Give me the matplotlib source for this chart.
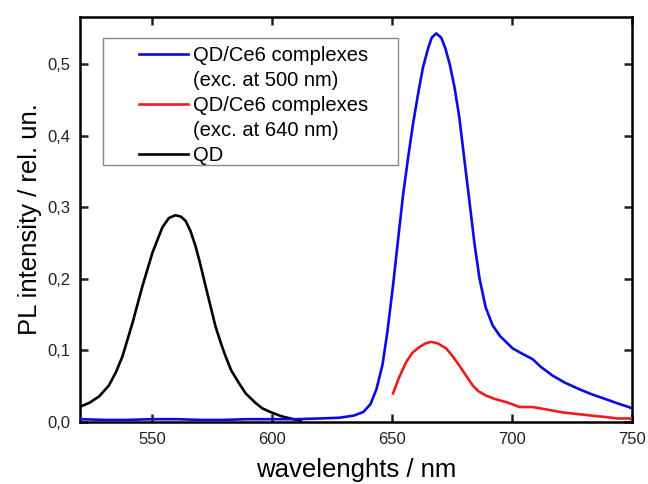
import matplotlib
matplotlib.use('Agg')
import matplotlib.pyplot as plt
from matplotlib.lines import Line2D
from matplotlib.patches import Rectangle
from matplotlib.ticker import FuncFormatter

plt.rcParams['font.family'] = ['Liberation Sans', 'DejaVu Sans']

# QD/Ce6 complexes, excitation at 500 nm (blue)
blue_nm = [520, 530, 540, 550, 560, 570, 580, 590, 600, 610, 620, 628, 634, 638, 641,
           643.5, 646, 648, 650.4, 652.5, 654.6, 656.7, 658.7, 660.8, 662.9, 665, 666.5,
           668.4, 670.5, 672.2, 674, 676, 678, 680, 682.2, 684.3, 686.4, 689, 691.9, 695,
           700.2, 705, 708.5, 712, 716.8, 722, 727.9, 733, 739, 744, 748.6, 750]
blue_pl = [0.004, 0.003, 0.003, 0.004, 0.004, 0.003, 0.003, 0.004, 0.004, 0.004, 0.005,
           0.006, 0.009, 0.014, 0.025, 0.046, 0.080, 0.125, 0.191, 0.255, 0.318, 0.370,
           0.416, 0.458, 0.496, 0.522, 0.537, 0.543, 0.537, 0.522, 0.500, 0.468, 0.426,
           0.370, 0.309, 0.250, 0.201, 0.160, 0.135, 0.120, 0.103, 0.094, 0.088, 0.077,
           0.065, 0.055, 0.046, 0.039, 0.032, 0.026, 0.021, 0.019]

# QD/Ce6 complexes, excitation at 640 nm (red)
red_nm = [650.4, 653, 655.9, 658.5, 661.5, 664, 666.3, 669, 672.5, 675, 678, 681, 683.6,
          686, 689.1, 693, 697.4, 700, 703, 706, 708.5, 712, 716.8, 722, 727.9, 733, 739,
          744, 748.6, 750]
red_pl = [0.040, 0.063, 0.084, 0.097, 0.105, 0.110, 0.112, 0.110, 0.103, 0.093, 0.079,
          0.064, 0.051, 0.043, 0.037, 0.032, 0.028, 0.025, 0.021, 0.021, 0.021, 0.019,
          0.016, 0.013, 0.011, 0.009, 0.007, 0.005, 0.005, 0.004]

# QD alone (black)
qd_nm = [520.4, 524, 528, 532, 535, 537.7, 541.9, 546, 550.2, 554.3, 557, 559.8, 562, 564,
         566, 568.1, 570, 572.3, 574.5, 576.4, 578.5, 580.6, 583, 586.1, 589, 593, 596,
         600, 604, 608.9, 612]
qd_pl = [0.022, 0.027, 0.036, 0.051, 0.070, 0.092, 0.139, 0.190, 0.237, 0.272, 0.285,
         0.289, 0.287, 0.281, 0.267, 0.246, 0.222, 0.190, 0.160, 0.134, 0.112, 0.092,
         0.072, 0.055, 0.040, 0.027, 0.019, 0.013, 0.008, 0.004, 0.002]

legend_labels = ['QD/Ce6 complexes', '(exc. at 500 nm)',
                 'QD/Ce6 complexes', '(exc. at 640 nm)', 'QD']

fig = plt.figure(figsize=(6.48, 4.84), dpi=100)
ax = fig.add_axes([0.1235, 0.128, 0.852, 0.837])

ax.plot(qd_nm, qd_pl, color='black', lw=1.9, zorder=2)
ax.plot(blue_nm, blue_pl, color='#0a0ae6', lw=1.9, zorder=3)
ax.plot(red_nm, red_pl, color='#ee1c1c', lw=1.9, zorder=3)

ax.set_xlim(520, 750)
ax.set_ylim(0, 0.566)
ax.set_xticks([550, 600, 650, 700, 750])
ax.set_yticks([0.0, 0.1, 0.2, 0.3, 0.4, 0.5])
ax.yaxis.set_major_formatter(FuncFormatter(lambda v, p: f'{v:.1f}'.replace('.', ',')))
ax.tick_params(direction='in', length=6, width=1.8, top=True, right=True,
               labelsize=12, colors='#222222', pad=7)
for s in ax.spines.values():
    s.set_linewidth(1.8)

ax.set_xlabel('wavelenghts / nm', fontsize=18.5, labelpad=8)
ax.set_ylabel('PL intensity / rel. un.', fontsize=18.5, labelpad=4)

# legend box drawn separately (wide padding like the original)
ax.add_patch(Rectangle((0.0417, 0.635), 0.534, 0.313, transform=ax.transAxes,
                       facecolor='white', edgecolor='#888888', lw=1.0, zorder=4))

handles = [Line2D([], [], color='#0a0ae6', lw=1.9),
           Line2D([], [], color='none'),
           Line2D([], [], color='#ee1c1c', lw=1.9),
           Line2D([], [], color='none'),
           Line2D([], [], color='black', lw=1.9)]
leg = ax.legend(handles, legend_labels, loc='upper left', bbox_to_anchor=(0.107, 0.929),
                borderaxespad=0, borderpad=0, fontsize=14.5, handlelength=2.44,
                handletextpad=0.25, labelspacing=0.30, frameon=False)
leg.set_zorder(5)

fig.savefig('out.png', dpi=100)
